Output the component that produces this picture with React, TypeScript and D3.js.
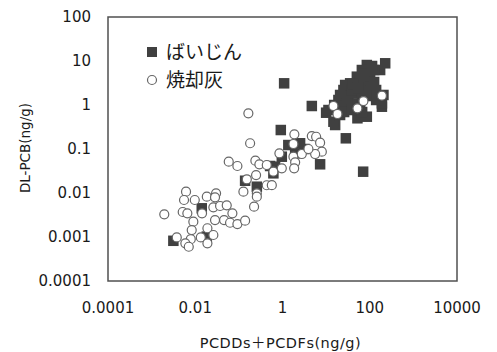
import React, { useEffect, useRef } from "react";
import * as d3 from "d3";

// ばいじん (fly dust) - PCDDs+PCDFs vs DL-PCB, ng/g
const dustX = [
  0.00315, 0.0141, 0.0184, 0.139, 0.258, 1.09, 4.7, 0.914, 0.618, 1.36,
  2.53, 1.95, 0.964, 0.676, 7.28, 70.6, 28.3, 16.1, 10, 11.3,
  14.7, 52.2, 190, 206, 173, 226, 85.7, 65.9, 24.9, 35.5,
  50.6, 32.5, 50.6, 71.7, 85.7, 46.3, 19.1, 22.9, 102, 102,
  190, 85.7, 27.3, 39.5, 60.3, 67, 126, 60.3, 140, 20.9,
  0.52, 3.2, 20.9, 30.3, 41.6, 54.2, 74.5, 113, 126, 140,
  82.6, 25.9, 39.5, 67, 15.3,
];
const dustY = [
  0.00082, 0.00449, 0.00102, 0.019, 0.0139, 3.11, 0.949, 0.27, 0.028, 0.123,
  0.135, 0.0798, 0.0668, 0.0396, 0.0449, 0.0305, 0.175, 0.351, 0.668, 0.769,
  0.417, 0.499, 0.914, 1.69, 6.24, 8.87, 8.11, 6.24, 2.19, 3.11,
  4.4, 1.55, 1.85, 2.6, 3.7, 1.09, 1.3, 0.914, 4.4, 2.6,
  1.09, 0.542, 2.85, 2.19, 3.7, 1.6, 6.24, 0.769, 2.19, 0.593,
  0.0411, 0.1, 1.69, 1.05, 3.0, 2.43, 5.07, 7.7, 3.33, 1.3,
  1.6, 0.693, 0.769, 0.693, 1.0,
];

// 焼却灰 (incineration ash)
const ashX = [
  0.00195, 0.00615, 0.00553, 0.00975, 0.0184, 0.03, 0.0284, 0.00516, 0.00659, 0.0143,
  0.026, 0.0371, 0.0527, 0.071, 0.0458, 0.0628, 0.0925, 0.139, 0.0284, 0.00904,
  0.0083, 0.019, 0.026, 0.0134, 0.00789, 0.00593, 0.0071, 0.00377, 0.019,
  0.165, 0.181, 0.0586, 0.0925, 0.239, 0.295, 0.436, 0.248, 0.152, 0.127,
  0.258, 0.436, 0.569, 0.223, 0.258, 0.618, 0.849, 0.964, 1.78, 1.87,
  1.78, 1.95, 1.85, 2.77, 4.7, 5.9, 7.28, 7.97, 5.6, 3.93,
  14.7, 18.2, 52.2, 71.7, 190,
];
const ashY = [
  0.00328, 0.0107, 0.00693, 0.00693, 0.00824, 0.00984, 0.00798, 0.0037, 0.00346, 0.00346,
  0.00473, 0.00507, 0.00525, 0.00346, 0.00243, 0.00211, 0.00197, 0.00235, 0.00243, 0.00223,
  0.00144, 0.00158, 0.00111, 0.00098, 0.00089, 0.00072, 0.0006, 0.00098, 0.00072,
  0.647, 0.135, 0.0514, 0.0411, 0.0542, 0.0449, 0.0433, 0.0256, 0.0205, 0.0107,
  0.00984, 0.015, 0.0151, 0.00489, 0.00824, 0.0305, 0.0798, 0.0364, 0.0668, 0.216,
  0.13, 0.0499, 0.0364, 0.0769, 0.197, 0.19, 0.139, 0.0869, 0.0769, 0.1,
  0.949, 0.624, 0.841, 1.23, 1.63,
];

const xTicks = [0.0001, 0.01, 1, 100, 10000];
const xTickLabels = ["0.0001", "0.01", "1", "100", "10000"];
const yTicks = [0.0001, 0.001, 0.01, 0.1, 1, 10, 100];
const yTickLabels = ["0.0001", "0.001", "0.01", "0.1", "1", "10", "100"];

const legendNames = ["ばいじん", "焼却灰"];

export default function App() {
  const ref = useRef<SVGSVGElement>(null);

  useEffect(() => {
    const svg = d3.select(ref.current);
    svg.selectAll("*").remove();

    const font = "'DejaVu Sans', 'Noto Sans CJK JP', sans-serif";
    const left = 108, right = 457, top = 17, bottom = 281;

    const x = d3.scaleLog().domain([0.0001, 10000]).range([left, right]);
    const y = d3.scaleLog().domain([0.0001, 100]).range([bottom, top]);

    // plot frame
    svg.append("rect")
      .attr("x", left).attr("y", top)
      .attr("width", right - left).attr("height", bottom - top)
      .attr("fill", "white").attr("stroke", "#505050").attr("stroke-width", 1.5);

    // tick labels
    svg.append("g").selectAll("text").data(xTicks).enter().append("text")
      .attr("x", d => x(d)).attr("y", 313)
      .attr("text-anchor", "middle")
      .style("font-family", font).style("font-size", "15px").attr("fill", "#1a1a1a")
      .text((d, i) => xTickLabels[i]);

    svg.append("g").selectAll("text").data(yTicks).enter().append("text")
      .attr("x", 91).attr("y", d => y(d) + 5)
      .attr("text-anchor", "end")
      .style("font-family", font).style("font-size", "15px").attr("fill", "#1a1a1a")
      .text((d, i) => yTickLabels[i]);

    // axis titles
    svg.append("text")
      .attr("x", (left + right) / 2 - 2).attr("y", 348)
      .attr("text-anchor", "middle")
      .style("font-family", font).style("font-size", "14.5px")
      .style("letter-spacing", "0.5px").attr("fill", "#1a1a1a")
      .text("PCDDs＋PCDFs(ng/g)");

    svg.append("text")
      .attr("transform", "translate(30,148) rotate(-90)")
      .attr("text-anchor", "middle")
      .style("font-family", font).style("font-size", "13.5px").attr("fill", "#1a1a1a")
      .text("DL-PCB(ng/g)");

    // ばいじん squares
    const sq = 10.5;
    svg.append("g").selectAll("rect").data(dustX).enter().append("rect")
      .attr("x", d => x(d) - sq / 2)
      .attr("y", (d, i) => y(dustY[i]) - sq / 2)
      .attr("width", sq).attr("height", sq)
      .attr("fill", "#404040");

    // 焼却灰 circles
    svg.append("g").selectAll("circle").data(ashX).enter().append("circle")
      .attr("cx", d => x(d))
      .attr("cy", (d, i) => y(ashY[i]))
      .attr("r", 4.5)
      .attr("fill", "white").attr("stroke", "#666666").attr("stroke-width", 1.2);

    // legend
    const legend = svg.append("g");
    legend.append("rect")
      .attr("x", 147).attr("y", 47).attr("width", 10).attr("height", 10)
      .attr("fill", "#404040");
    legend.append("circle")
      .attr("cx", 152).attr("cy", 80).attr("r", 4.5)
      .attr("fill", "white").attr("stroke", "#666666").attr("stroke-width", 1.2);
    legendNames.forEach((name, i) => {
      legend.append("text")
        .attr("x", 166).attr("y", 59 + i * 28)
        .style("font-family", "'Noto Sans CJK JP', sans-serif")
        .style("font-size", "19px").attr("fill", "#1a1a1a")
        .text(name);
    });
  }, []);

  return (
    <div style={{ position: "absolute", left: 0, top: 0 }}>
      <svg ref={ref} width={497} height={352} style={{ display: "block", background: "white" }} />
    </div>
  );
}
